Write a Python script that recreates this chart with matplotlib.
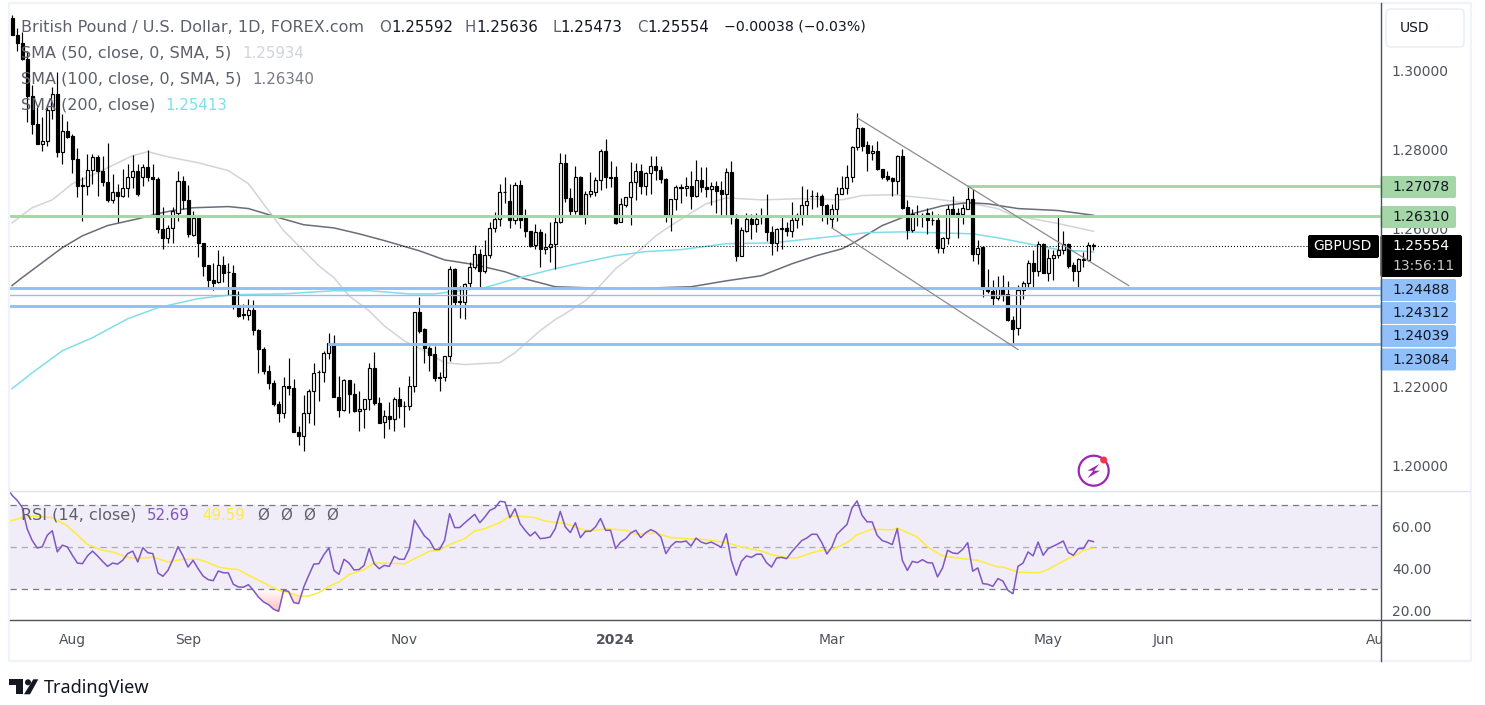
import numpy as np
import matplotlib
matplotlib.use('Agg')
import matplotlib.pyplot as plt
from matplotlib.patches import Rectangle, FancyBboxPatch, Polygon, Circle, Arc
from matplotlib.transforms import Bbox, TransformedBbox, IdentityTransform

plt.rcParams['font.family'] = ['DejaVu Sans']

# daily candles, GBPUSD
opens = [1.3133,1.3090,1.3071,1.3029,1.2936,1.2866,1.2814,1.2822,1.2900,1.2941,
         1.2793,1.2848,1.2835,1.2776,1.2711,1.2708,1.2748,1.2782,1.2747,1.2717,
         1.2673,1.2692,1.2683,1.2703,1.2730,1.2747,1.2732,1.2757,1.2731,1.2725,
         1.2599,1.2576,1.2601,1.2641,1.2721,1.2672,1.2584,1.2628,1.2563,1.2507,
         1.2470,1.2464,1.2509,1.2491,1.2488,1.2407,1.2383,1.2381,1.2393,1.2344,
         1.2296,1.2239,1.2210,1.2156,1.2133,1.2202,1.2197,1.2086,1.2075,1.2133,
         1.2189,1.2238,1.2237,1.2285,1.2311,1.2175,1.2141,1.2217,1.2182,1.2138,
         1.2144,1.2169,1.2248,1.2159,1.2110,1.2126,1.2118,1.2169,1.2152,1.2151,
         1.2202,1.2389,1.2345,1.2299,1.2283,1.2225,1.2225,1.2278,1.2498,1.2416,
         1.2414,1.2462,1.2502,1.2536,1.2492,1.2533,1.2602,1.2624,1.2694,1.2671,
         1.2622,1.2711,1.2627,1.2594,1.2558,1.2591,1.2548,1.2553,1.2561,1.2617,
         1.2766,1.2678,1.2645,1.2731,1.2635,1.2688,1.2694,1.2723,1.2796,1.2731,
         1.2731,1.2617,1.2661,1.2680,1.2718,1.2746,1.2708,1.2740,1.2759,1.2748,
         1.2726,1.2635,1.2675,1.2705,1.2703,1.2709,1.2684,1.2723,1.2705,1.2700,
         1.2708,1.2698,1.2688,1.2743,1.2624,1.2532,1.2595,1.2624,1.2613,1.2633,
         1.2626,1.2592,1.2563,1.2601,1.2602,1.2593,1.2622,1.2634,1.2660,1.2683,
         1.2683,1.2683,1.2660,1.2625,1.2650,1.2689,1.2703,1.2731,1.2806,1.2855,
         1.2812,1.2791,1.2797,1.2751,1.2733,1.2729,1.2721,1.2785,1.2654,1.2597,
         1.2635,1.2635,1.2640,1.2623,1.2622,1.2551,1.2576,1.2650,1.2639,1.2637,
         1.2651,1.2675,1.2537,1.2554,1.2451,1.2443,1.2424,1.2453,1.2434,1.2369,
         1.2348,1.2445,1.2462,1.2513,1.2492,1.2561,1.2488,1.2526,1.2533,1.2546,
         1.2561,1.2509,1.2494,1.2523,1.2522,1.25592]
highs = [1.3142,1.3108,1.3097,1.3050,1.2964,1.2907,1.2883,1.2907,1.2959,1.2996,
         1.2890,1.2873,1.2839,1.2804,1.2730,1.2790,1.2790,1.2787,1.2785,1.2817,
         1.2738,1.2714,1.2751,1.2765,1.2787,1.2763,1.2765,1.2799,1.2763,1.2730,
         1.2654,1.2610,1.2654,1.2747,1.2734,1.2711,1.2644,1.2628,1.2565,1.2509,
         1.2513,1.2547,1.2530,1.2513,1.2507,1.2443,1.2410,1.2422,1.2420,1.2346,
         1.2300,1.2254,1.2216,1.2165,1.2224,1.2272,1.2220,1.2101,1.2178,1.2194,
         1.2261,1.2243,1.2291,1.2336,1.2332,1.2226,1.2220,1.2217,1.2210,1.2190,
         1.2169,1.2259,1.2289,1.2175,1.2140,1.2162,1.2175,1.2200,1.2165,1.2226,
         1.2389,1.2428,1.2349,1.2302,1.2302,1.2238,1.2278,1.2506,1.2501,1.2456,
         1.2463,1.2516,1.2559,1.2548,1.2571,1.2616,1.2643,1.2713,1.2732,1.2713,
         1.2717,1.2723,1.2650,1.2595,1.2613,1.2599,1.2589,1.2616,1.2634,1.2792,
         1.2789,1.2703,1.2760,1.2734,1.2696,1.2744,1.2730,1.2802,1.2828,1.2772,
         1.2759,1.2677,1.2681,1.2769,1.2766,1.2764,1.2743,1.2783,1.2785,1.2759,
         1.2728,1.2675,1.2711,1.2713,1.2732,1.2745,1.2774,1.2757,1.2757,1.2719,
         1.2720,1.2721,1.2753,1.2772,1.2637,1.2605,1.2640,1.2637,1.2641,1.2652,
         1.2688,1.2608,1.2603,1.2629,1.2618,1.2667,1.2639,1.2709,1.2700,1.2698,
         1.2694,1.2688,1.2662,1.2662,1.2706,1.2734,1.2761,1.2810,1.2893,1.2858,
         1.2823,1.2812,1.2823,1.2751,1.2747,1.2732,1.2787,1.2802,1.2672,1.2650,
         1.2661,1.2641,1.2652,1.2645,1.2637,1.2578,1.2661,1.2683,1.2652,1.2662,
         1.2706,1.2700,1.2571,1.2556,1.2499,1.2470,1.2481,1.2483,1.2467,1.2380,
         1.2458,1.2467,1.2522,1.2546,1.2568,1.2563,1.2548,1.2546,1.2635,1.2593,
         1.2563,1.2515,1.2527,1.2542,1.2567,1.25636]
lows = [1.3090,1.3050,1.3027,1.2869,1.2841,1.2814,1.2797,1.2810,1.2877,1.2782,
        1.2763,1.2829,1.2742,1.2681,1.2620,1.2686,1.2713,1.2683,1.2709,1.2668,
        1.2666,1.2616,1.2679,1.2679,1.2704,1.2683,1.2709,1.2721,1.2637,1.2590,
        1.2548,1.2563,1.2563,1.2620,1.2649,1.2578,1.2582,1.2528,1.2481,1.2450,
        1.2445,1.2463,1.2464,1.2431,1.2397,1.2376,1.2372,1.2370,1.2332,1.2234,
        1.2231,1.2194,1.2152,1.2110,1.2120,1.2180,1.2085,1.2052,1.2037,1.2107,
        1.2104,1.2163,1.2211,1.2269,1.2173,1.2123,1.2138,1.2133,1.2136,1.2089,
        1.2095,1.2142,1.2153,1.2107,1.2070,1.2094,1.2089,1.2120,1.2097,1.2140,
        1.2186,1.2337,1.2261,1.2241,1.2214,1.2189,1.2214,1.2266,1.2405,1.2374,
        1.2372,1.2450,1.2498,1.2451,1.2488,1.2526,1.2591,1.2607,1.2664,1.2603,
        1.2613,1.2603,1.2578,1.2554,1.2548,1.2502,1.2536,1.2515,1.2499,1.2614,
        1.2668,1.2633,1.2637,1.2633,1.2613,1.2679,1.2683,1.2699,1.2703,1.2705,
        1.2612,1.2616,1.2656,1.2610,1.2673,1.2689,1.2686,1.2689,1.2723,1.2715,
        1.2618,1.2595,1.2648,1.2664,1.2683,1.2649,1.2679,1.2694,1.2679,1.2661,
        1.2641,1.2635,1.2633,1.2613,1.2517,1.2532,1.2591,1.2573,1.2591,1.2612,
        1.2570,1.2534,1.2544,1.2548,1.2582,1.2580,1.2603,1.2610,1.2633,1.2650,
        1.2654,1.2620,1.2613,1.2603,1.2620,1.2688,1.2689,1.2717,1.2800,1.2796,
        1.2745,1.2774,1.2748,1.2726,1.2721,1.2683,1.2688,1.2650,1.2575,1.2592,
        1.2607,1.2605,1.2586,1.2610,1.2539,1.2539,1.2561,1.2635,1.2576,1.2612,
        1.2650,1.2519,1.2510,1.2426,1.2436,1.2405,1.2420,1.2418,1.2367,1.2308,
        1.2331,1.2423,1.2451,1.2451,1.2481,1.2488,1.2467,1.2470,1.2527,1.2537,
        1.2500,1.2467,1.2451,1.2502,1.2517,1.25473]
closes = [1.3090,1.3071,1.3029,1.2936,1.2866,1.2814,1.2822,1.2900,1.2941,1.2793,
          1.2848,1.2833,1.2776,1.2709,1.2709,1.2748,1.2782,1.2745,1.2717,1.2673,
          1.2692,1.2683,1.2703,1.2731,1.2747,1.2687,1.2757,1.2730,1.2725,1.2599,
          1.2576,1.2601,1.2644,1.2721,1.2672,1.2586,1.2628,1.2563,1.2505,1.2469,
          1.2463,1.2509,1.2488,1.2490,1.2405,1.2380,1.2381,1.2393,1.2344,1.2295,
          1.2239,1.2209,1.2155,1.2133,1.2202,1.2196,1.2085,1.2075,1.2134,1.2189,
          1.2235,1.2237,1.2286,1.2311,1.2173,1.2141,1.2217,1.2181,1.2138,1.2144,
          1.2169,1.2248,1.2159,1.2109,1.2126,1.2118,1.2169,1.2151,1.2151,1.2202,
          1.2389,1.2342,1.2298,1.2281,1.2221,1.2221,1.2278,1.2498,1.2414,1.2414,
          1.2460,1.2504,1.2536,1.2492,1.2533,1.2602,1.2624,1.2693,1.2692,1.2622,
          1.2711,1.2622,1.2593,1.2556,1.2591,1.2548,1.2553,1.2561,1.2617,1.2766,
          1.2677,1.2645,1.2731,1.2635,1.2688,1.2695,1.2723,1.2797,1.2730,1.2729,
          1.2615,1.2662,1.2680,1.2718,1.2746,1.2708,1.2741,1.2759,1.2748,1.2725,
          1.2635,1.2675,1.2705,1.2703,1.2708,1.2684,1.2723,1.2705,1.2700,1.2708,
          1.2696,1.2687,1.2743,1.2633,1.2532,1.2597,1.2624,1.2613,1.2624,1.2629,
          1.2592,1.2563,1.2599,1.2599,1.2593,1.2622,1.2635,1.2660,1.2670,1.2682,
          1.2682,1.2660,1.2633,1.2650,1.2689,1.2703,1.2731,1.2808,1.2855,1.2810,
          1.2791,1.2797,1.2750,1.2732,1.2727,1.2721,1.2785,1.2652,1.2597,1.2637,
          1.2634,1.2634,1.2622,1.2622,1.2551,1.2576,1.2651,1.2637,1.2637,1.2653,
          1.2675,1.2537,1.2551,1.2451,1.2443,1.2424,1.2451,1.2433,1.2369,1.2347,
          1.2445,1.2462,1.2513,1.2492,1.2561,1.2488,1.2526,1.2533,1.2546,1.2561,
          1.2506,1.2494,1.2523,1.2522,1.2558,1.25554]

# moving averages, read at the bends only
sma50_idx = [0,4,8,12,17,24,27,31,37,43,47,50,54,57,61,64,67,71,74,78,82,86,90,97,100,105,108,110,114,116,
             120,124,128,131,135,138,142,149,157,165,169,175,183,188,191,196,199,203,208,215]
sma50 = [1.2615,1.2653,1.2673,1.2714,1.2742,1.2785,1.2795,1.2782,1.2767,1.2747,1.2714,1.2663,1.2595,1.2557,
         1.2506,1.2476,1.2430,1.2392,1.2354,1.2316,1.2291,1.2261,1.2256,1.2261,1.2286,1.2342,1.2370,1.2385,
         1.2418,1.2443,1.2499,1.2537,1.2582,1.2608,1.2640,1.2663,1.2678,1.2673,1.2676,1.2673,1.2684,1.2686,
         1.2676,1.2668,1.2663,1.2651,1.2633,1.2625,1.2613,1.25934]
sma100_idx = [0,2,6,10,14,19,25,29,32,36,43,47,53,58,64,69,74,81,86,92,98,102,108,113,122,135,142,149,155,
              160,165,167,173,179,185,190,194,200,208,215]
sma100 = [1.2456,1.2476,1.2514,1.2552,1.2582,1.2608,1.2625,1.2638,1.2646,1.2653,1.2656,1.2651,1.2628,1.2610,
          1.2602,1.2587,1.2570,1.2544,1.2521,1.2509,1.2491,1.2473,1.2453,1.2451,1.2448,1.2453,1.2468,1.2481,
          1.2511,1.2532,1.2549,1.2562,1.2608,1.2638,1.2658,1.2666,1.2663,1.2651,1.2646,1.26340]
sma200_idx = [0,4,10,16,23,29,37,44,54,64,71,79,84,94,100,108,114,120,126,133,142,151,163,170,177,183,191,
              196,202,208,215]
sma200 = [1.2195,1.2235,1.2291,1.2324,1.2372,1.2400,1.2423,1.2433,1.2435,1.2443,1.2443,1.2435,1.2435,1.2451,
          1.2473,1.2499,1.2516,1.2532,1.2542,1.2547,1.2562,1.2564,1.2580,1.2590,1.2592,1.2590,1.2587,1.2577,
          1.2562,1.2547,1.25413]

# RSI from the bar before the first one to the last one
rsi = [78.7,74.8,72.4,69.2,58.9,53.3,49.7,50.2,55.7,57.9,47.8,51.0,50.2,46.2,42.5,42.2,45.9,48.2,45.9,43.3,
       40.9,42.5,42.0,43.8,47.0,48.2,43.0,49.8,47.4,47.0,37.8,36.2,39.0,44.3,50.3,45.9,40.6,43.8,39.8,36.3,
       34.6,34.1,38.7,37.9,37.8,32.4,31.1,31.0,32.2,29.5,26.3,24.0,22.7,20.5,19.5,29.5,29.0,23.7,23.2,31.1,
       36.7,42.0,42.2,46.5,49.7,39.0,37.1,44.3,42.5,39.2,39.4,41.4,49.4,42.2,39.8,41.4,40.9,45.7,44.3,44.3,
       49.4,63.0,59.2,55.4,53.3,49.0,49.0,53.3,66.0,59.4,59.4,61.6,63.7,65.7,61.7,64.4,67.6,68.7,71.9,71.6,
       64.1,68.4,61.3,58.1,55.4,57.3,54.1,54.4,54.9,58.9,67.1,59.7,57.0,61.7,54.6,57.6,57.6,59.7,63.7,58.1,
       58.1,49.4,52.5,54.1,56.8,58.1,54.6,57.0,58.4,57.3,54.9,47.0,50.6,52.7,52.5,53.0,50.6,54.4,52.5,51.7,
       52.5,51.3,50.0,56.5,43.8,36.7,43.3,45.9,45.2,46.7,46.7,42.7,40.6,44.9,45.2,44.6,47.8,50.5,53.2,54.4,
       56.2,56.2,52.2,46.8,50.2,56.2,58.6,60.9,68.7,72.1,65.2,62.1,62.1,55.7,53.2,52.4,51.3,58.9,43.8,39.0,
       43.3,42.7,44.1,42.7,42.5,35.9,40.2,48.6,47.3,47.0,49.0,52.2,38.6,40.2,32.7,32.4,31.4,35.1,33.9,29.5,
       27.9,40.95,42.5,47.8,45.9,52.5,46.2,49.4,50.5,51.7,53.0,47.5,46.2,49.4,49.4,53.3,52.69]
rsi_ma_idx = [-1,2,4,8,11,15,18,20,23,26,28,31,34,37,39,41,43,45,47,51,53,55,57,59,61,63,65,67,70,72,75,78,80,
              83,85,87,90,92,94,97,99,101,104,106,110,114,116,118,122,124,128,131,134,137,139,142,145,149,151,
              154,156,159,161,163,166,168,171,175,176,180,182,185,188,192,196,197,200,204,206,208,210,212,213,215]
rsi_ma = [62.1,64.1,64.9,64.1,60.2,51.4,48.6,47.8,45.1,44.9,45.4,43.0,44.3,44.3,42.7,40.6,39.8,39.4,36.7,31.9,
          29.5,28.4,26.8,26.8,28.4,31.4,33.5,37.0,39.4,42.5,42.4,42.1,44.6,48.1,48.6,51.3,54.1,57.8,58.9,61.7,
          64.9,64.8,64.1,62.5,61.3,58.1,58.1,58.9,58.1,56.2,56.8,54.6,54.1,53.8,53.3,52.2,50.2,48.2,46.5,45.1,
          44.9,47.4,48.6,48.9,52.2,56.0,58.6,58.3,59.2,54.9,50.2,45.9,44.9,43.8,40.6,40.6,38.2,37.8,39.4,42.2,
          44.6,47.0,48.6,49.59]

# drawn levels and channel
green_levels = [1.27078, 1.26310]
blue_levels = [1.24488, 1.24312, 1.24039, 1.23084]
level_start = {1.27078: 190, 1.23084: 63}
channel_x = [[168, 222], [163, 200]]
channel_y = [[1.2881, 1.2456], [1.2602, 1.2294]]

price_ticks = [1.30, 1.28, 1.26, 1.22, 1.20]
rsi_ticks = [60, 40, 20]
date_ticks = [12, 35, 78, 120, 163, 206, 229, 271.9]
date_labels = ['Aug', 'Sep', 'Nov', '2024', 'Mar', 'May', 'Jun', 'Aug']
last_price = 1.25554

W, H = 1485, 705
LEFT, RIGHT = 10, 1380.5
TEXT = '#50535e'

fig = plt.figure(figsize=(W / 100, H / 100), dpi=100)
ax = fig.add_axes([LEFT / W, 1 - 490.5 / H, (RIGHT - LEFT) / W, 486.5 / H])
ax2 = fig.add_axes([LEFT / W, 1 - 619.5 / H, (RIGHT - LEFT) / W, 128.5 / H], sharex=ax)

x = np.arange(len(closes))
opens, highs, lows, closes = map(np.array, (opens, highs, lows, closes))

ax.set_xlim(-0.4, (RIGHT - 12) / 5.03)
ax.set_ylim(1.30 - (490.5 - 70.7) / 3950, 1.30 + (70.7 - 4) / 3950)
ax2.set_ylim(50 - (619.5 - 547.3) / 2.1, 50 + (547.3 - 491) / 2.1)

# price pane
ax.plot(sma50_idx, sma50, color='#d1d4dc', lw=1.1, zorder=2)
ax.plot(sma100_idx, sma100, color='#6a6d78', lw=1.1, zorder=2)
ax.plot(sma200_idx, sma200, color='#80deea', lw=1.1, zorder=2)

ax.vlines(x, lows, highs, color='k', lw=0.85, zorder=3)
up = closes >= opens
ax.bar(x, np.abs(closes - opens), bottom=np.minimum(opens, closes), width=0.6,
       color=np.where(up, 'white', 'black'), edgecolor='k', linewidth=0.85, zorder=4)

ax.axhline(last_price, xmax=(1308 - LEFT) / (RIGHT - LEFT), color='k', lw=0.75,
           ls=(0, (1, 1.9)), zorder=5)

for v in green_levels:
    ax.plot([level_start.get(v, -1), 280], [v, v], color='#a5d6a7', lw=2.1, zorder=6)
for v in blue_levels:
    lw = 1.0 if v == 1.24312 else 2.1
    ax.plot([level_start.get(v, -1), 280], [v, v], color='#90bff9', lw=lw, zorder=6)
for cx, cy in zip(channel_x, channel_y):
    ax.plot(cx, cy, color='#8c8c8c', lw=0.9, zorder=6)

# RSI pane
rsi_idx = np.arange(-1, len(rsi) - 1)
ax2.axhspan(30, 70, color='#7e57c2', alpha=0.1, lw=0)
ax2.axhline(70, color='#787b86', lw=0.9, ls=(0, (5, 4)))
ax2.axhline(50, color='#a9abb3', lw=0.9, ls=(0, (5, 4)))
ax2.axhline(30, color='#787b86', lw=0.9, ls=(0, (5, 4)))
grad = np.linspace(0, 1, 64)[:, None]
cmap = matplotlib.colors.LinearSegmentedColormap.from_list('os', ['#ffc0c0', '#ffffff'])
im = ax2.imshow(grad, extent=(-1, 215, 19, 30), origin='lower', cmap=cmap, aspect='auto', zorder=1)
ax2.set_xlim(-0.4, (RIGHT - 12) / 5.03)
ax2.set_ylim(50 - (619.5 - 547.3) / 2.1, 50 + (547.3 - 491) / 2.1)
clip = ax2.fill_between(rsi_idx, rsi, 30, where=np.array(rsi) < 30.5, color='none', lw=0, interpolate=True)
im.set_clip_path(clip.get_paths()[0], transform=ax2.transData)
ax2.plot(rsi_ma_idx, rsi_ma, color='#ffeb3b', lw=1.1, zorder=3)
ax2.plot(rsi_idx, rsi, color='#7e57c2', lw=1.1, zorder=4)

# axes
for a in (ax, ax2):
    for s in a.spines.values():
        s.set_visible(False)
    a.yaxis.tick_right()
    a.tick_params(length=0, labelcolor=TEXT, labelsize=10, pad=8.2)
ax.set_yticks(price_ticks, [f'{v:.5f}' for v in price_ticks])
ax2.set_yticks(rsi_ticks, [f'{v:.2f}' for v in rsi_ticks])
ax.tick_params(axis='x', bottom=False, labelbottom=False)
ax2.set_xticks(date_ticks, date_labels)
ax2.tick_params(axis='x', pad=10)
clip_box = TransformedBbox(Bbox([[0, 0], [RIGHT, H]]), IdentityTransform())
for t, name in zip(ax2.get_xticklabels(), date_labels):
    t.set_clip_box(clip_box)
    t.set_clip_on(True)
    if name == '2024':
        t.set_fontweight('bold')

# everything around the panes, in picture pixels
ov = fig.add_axes([0, 0, 1, 1], zorder=10)
ov.set_xlim(0, W)
ov.set_ylim(H, 0)
ov.axis('off')
ov.patch.set_alpha(0)

BORDER = '#f0f3fa'
ov.add_patch(Rectangle((8.5, 3), 1462, 658, fill=False, ec=BORDER, lw=1.6))
ov.plot([10, 1470], [490.5, 490.5], color='#e0e3eb', lw=1)
ov.plot([10, 1470], [619.5, 619.5], color=TEXT, lw=1)
ov.plot([RIGHT, RIGHT], [3, 661], color=TEXT, lw=1)

ov.add_patch(FancyBboxPatch((1389, 12), 72, 32, boxstyle='round,pad=3,rounding_size=5',
                            fc='white', ec='#e9ecf2', lw=1))
ov.text(1400, 28, 'USD', color='#131722', fontsize=10, va='center')


def label(y, w, text, fc, tc='#131722'):
    ov.add_patch(FancyBboxPatch((RIGHT, y - 11), w, 22, boxstyle='round,pad=0,rounding_size=2',
                                fc=fc, ec='none'))
    ov.text(1392.5, y, text, color=tc, fontsize=10, va='center')


label(187, 75.5, f'{green_levels[0]:.5f}', '#a5d6a7')
label(217, 75.5, f'{green_levels[1]:.5f}', '#a5d6a7')
for y, v in zip([290, 313, 336, 359.5], blue_levels):
    label(y, 75.5, f'{v:.5f}', '#90bff9')
ov.add_patch(FancyBboxPatch((RIGHT, 235), 81.5, 42, boxstyle='round,pad=0,rounding_size=2', fc='k', ec='none'))
ov.text(1392.5, 246.5, f'{last_price:.5f}', color='white', fontsize=10, va='center')
ov.text(1392.5, 266, '13:56:11', color='#c8c8c8', fontsize=10, va='center')
ov.add_patch(FancyBboxPatch((1308, 235), 71, 23, boxstyle='round,pad=0,rounding_size=2', fc='k', ec='none'))
ov.text(1313, 246.5, 'GBPUSD', color='white', fontsize=10, va='center')

# legend rows
GREY = '#5d606b'
FS = 11.5
FN = 10.8
ov.text(21, 27, 'British Pound / U.S. Dollar, 1D, FOREX.com', color=GREY, fontsize=FS, va='center')
for xt, a, b in [(379, 'O', '1.25592'), (465, 'H', '1.25636'), (552, 'L', '1.25473'), (637, 'C', '1.25554')]:
    t = ov.text(xt, 27, a, color=GREY, fontsize=FN, va='center')
    ov.annotate(b, xy=(1, 0.5), xycoords=t, va='center', color='#131722', fontsize=FN)
ov.text(724, 27, '\u22120.00038 (\u22120.03%)', color='#131722', fontsize=10.2, va='center')
for y, name, vx, val, col in [(53, 'SMA (50, close, 0, SMA, 5)', 242, '1.25934', '#d1d4dc'),
                              (79, 'SMA (100, close, 0, SMA, 5)', 252, '1.26340', '#787b86'),
                              (105, 'SMA (200, close)', 165, '1.25413', '#80deea')]:
    ov.text(21, y, name, color=GREY, fontsize=FS, va='center')
    ov.text(vx, y, val, color=col, fontsize=FN, va='center')
ov.text(21, 515, 'RSI (14, close)', color=GREY, fontsize=FS, va='center')
ov.text(147, 515, '52.69', color='#7e57c2', fontsize=FN, va='center')
ov.text(202, 515, '49.59', color='#ffeb3b', fontsize=FN, va='center')
for xt in (257, 280, 303, 326):
    ov.text(xt, 515, '\u00d8', color=GREY, fontsize=FN, va='center')

# lightning mark
ov.add_patch(Arc((1093.7, 470.7), 30, 30, theta1=-35, theta2=305, color='#9c27b0', lw=1.6))
ov.add_patch(Polygon([(1099.3, 464), (1087.3, 470.7), (1093.3, 470.7), (1087.3, 478.3),
                      (1100, 470.7), (1094, 470.7)], fc='#9c27b0', ec='none'))
ov.add_patch(Circle((1103.7, 460), 3.5, fc='#f23645', ec='none'))

# logo
ov.add_patch(Polygon([(9, 679.3), (23.3, 679.3), (23.3, 694.3), (16, 694.3), (16, 685), (9, 685)], fc='#131722', ec='none'))
ov.add_patch(Circle((28, 682.3), 3, fc='#131722', ec='none'))
ov.add_patch(Polygon([(33.3, 679.3), (38.3, 679.3), (30, 694.3), (24, 694.3)], fc='#131722', ec='none'))
ov.text(44, 688, 'TradingView', color='#131722', fontsize=13, family='Noto Sans', va='center')

fig.savefig('out.png', dpi=100)
